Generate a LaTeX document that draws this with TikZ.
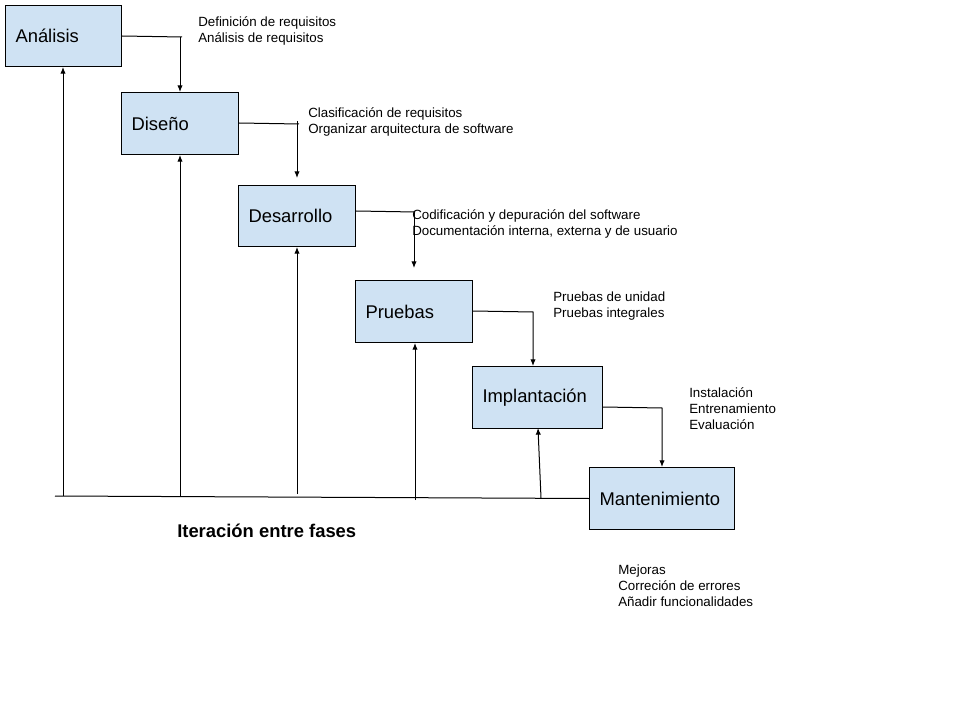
\documentclass[tikz,border=0pt]{standalone}
\usepackage{fontspec}
\setmainfont{Liberation Sans}
\usetikzlibrary{arrows.meta}
\definecolor{boxblue}{HTML}{CFE2F3}
\begin{document}
\begin{tikzpicture}[x=0.75pt,y=-0.75pt,
  box/.style 2 args={draw=black, fill=boxblue, line width=0.75pt, anchor=north west,
    inner xsep=7.5pt, inner ysep=0pt, align=left, text width=#1, minimum height=#2,
    font=\fontsize{13.8}{16}\selectfont},
  note/.style={anchor=west, inner sep=0pt, align=left, font=\fontsize{10}{12}\selectfont},
  conn/.style={line width=0.75pt},
  arr/.style={line width=0.75pt, -{Latex[length=5pt,width=4pt]}}]
\useasboundingbox (0,0) rectangle (960,720);

% phase boxes
\node[box={72pt}{45.75pt}] (A) at (5,5) {Análisis};
\node[box={72.75pt}{46.5pt}] (D) at (121,92) {Diseño};
\node[box={72.75pt}{45.75pt}] (S) at (238,185) {Desarrollo};
\node[box={72.75pt}{46.5pt}] (P) at (355,280) {Pruebas};
\node[box={82.5pt}{46.5pt}] (I) at (472,366) {Implantación};
\node[box={93.75pt}{46.5pt}] (M) at (589,467) {Mantenimiento};

% notes
\node[note] (nA) at (198,30.5) {Definición de requisitos\\Análisis de requisitos};
\node[note] (nD) at (308,121.5) {Clasificación de requisitos\\Organizar arquitectura de software};
\node[note] (nS) at (412,223.5) {Codificación y depuración del software\\Documentación interna, externa y de usuario};
\node[note] (nP) at (553,306) {Pruebas de unidad\\Pruebas integrales};
\node[note] (nI) at (689,408.5) {Instalación\\Entrenamiento\\Evaluación};
\node[note] (nM) at (618,585.5) {Mejoras\\Correción de errores\\Añadir funcionalidades};
\node[anchor=west, inner sep=0pt, font=\fontsize{13.8}{16}\selectfont\bfseries] (it) at (177,531) {Iteración entre fases};

% forward connectors
\coordinate (a0) at (121,36);
\coordinate (a1) at (182,37);
\coordinate (a2) at (180,37);
\draw[conn] (a0 -| A.east) -- (a1);
\draw[arr] (a2) -- (a2 |- D.north);

\coordinate (d0) at (238,123);
\coordinate (d1) at (299,124);
\coordinate (d2) at (297,121);
\coordinate (d3) at (297,178);
\draw[conn] (d0 -| D.east) -- (d1);
\draw[arr] (d2) -- (d3);

\coordinate (s0) at (355,211);
\coordinate (s1) at (415,212);
\coordinate (s2) at (414,211);
\coordinate (s3) at (414,268);
\draw[conn] (s0 -| S.east) -- (s1);
\draw[arr] (s2) -- (s3);

\coordinate (p0) at (472,311);
\coordinate (p1) at (533,312);
\draw[arr] (p0 -| P.east) -- (p1) -- (p1 |- I.north);

\coordinate (i0) at (602,407);
\coordinate (i1) at (662,408);
\draw[arr] (i0 -| I.east) -- (i1) -- (i1 |- M.north);

% iteration line
\coordinate (b0) at (55,496);
\draw[conn] (b0) -- (M.west);
\coordinate (b1) at (63,496);
\coordinate (b2) at (180,496);
\coordinate (b3) at (297,494);
\coordinate (b4) at (415,500);
\coordinate (b5) at (541,498);
\coordinate (b5t) at (538,428);
\draw[arr] (b1) -- (b1 |- A.south);
\draw[arr] (b2) -- (b2 |- D.south);
\draw[arr] (b3) -- (b3 |- S.south);
\draw[arr] (b4) -- (b4 |- P.south);
\draw[arr] (b5) -- (b5t);
\end{tikzpicture}
\end{document}
